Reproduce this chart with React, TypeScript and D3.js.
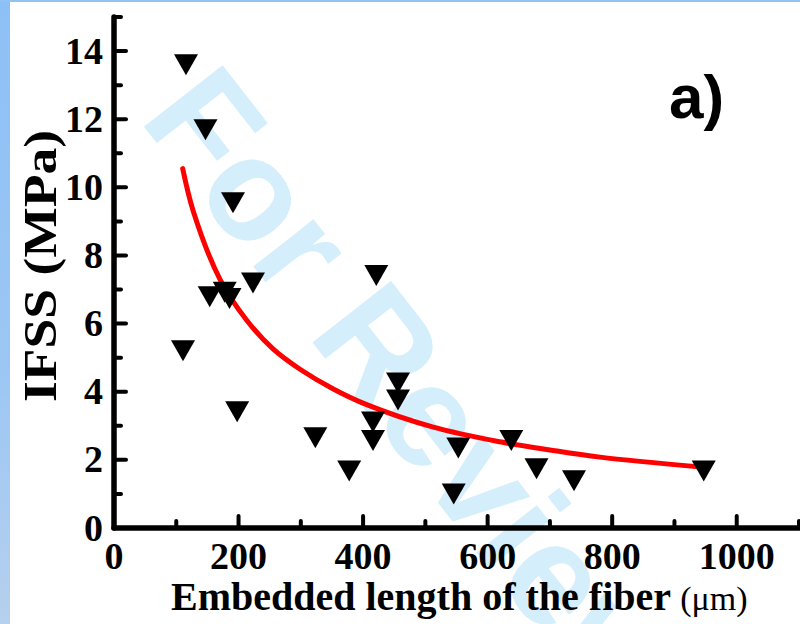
import React, { useEffect, useRef } from "react";
import * as d3 from "d3";

const pointX = [115.6, 146.9, 191.1, 110.8, 153.7, 177.8, 185.5, 223.2, 197.8, 323.3, 377.7, 421.2, 415.9, 415.9, 456.1, 456.1, 552.9, 545.5, 638.0, 678.5, 738.7, 947.0];
const pointY = [13.6, 11.69, 9.55, 5.2, 6.79, 6.92, 6.74, 7.19, 3.41, 2.65, 1.67, 7.41, 3.11, 2.57, 4.26, 3.76, 2.35, 1.0, 2.57, 1.74, 1.39, 1.67];

const fitX = [110.3, 127.3, 170.2, 213.1, 255.8, 298.7, 352.2, 405.8, 512.8, 619.9, 700.2, 780.5, 946.4];
const fitY = [10.55, 9.3, 7.3, 6.1, 5.25, 4.66, 4.08, 3.62, 2.96, 2.53, 2.29, 2.08, 1.78];

const xTicks = [0, 200, 400, 600, 800, 1000];
const xMinor = [100, 300, 500, 700, 900, 1100];
const yTicks = [0, 2, 4, 6, 8, 10, 12, 14];
const yMinor = [1, 3, 5, 7, 9, 11, 13, 15];

const xTitle = "Embedded length of the fiber";
const xUnit = "(μm)";
const yTitle = "IFSS (MPa)";
const panelLabel = "a)";
const watermark = "For Review";

export default function App() {
  const ref = useRef<SVGSVGElement>(null);

  useEffect(() => {
    const svg = d3.select(ref.current);
    svg.selectAll("*").remove();
    const W = 800, H = 624;

    const x = d3.scaleLinear().domain([0, 1100]).range([114, 799]);
    const y = d3.scaleLinear().domain([0, 15]).range([528, 17]);

    const defs = svg.append("defs");
    const grad = defs.append("linearGradient").attr("id", "edge").attr("x1", 0).attr("y1", 0).attr("x2", 0).attr("y2", 1);
    grad.append("stop").attr("offset", "0%").attr("stop-color", "#8dc0f6");
    grad.append("stop").attr("offset", "60%").attr("stop-color", "#9cc7f4");
    grad.append("stop").attr("offset", "100%").attr("stop-color", "#b6d0ee");

    svg.append("rect").attr("width", W).attr("height", H).attr("fill", "#ffffff");
    svg.append("rect").attr("x", 0).attr("y", 0).attr("width", 10).attr("height", H).attr("fill", "url(#edge)");
    svg.append("rect").attr("x", 0).attr("y", 0).attr("width", W).attr("height", 2).attr("fill", "#93c3f6");

    svg.append("text")
      .attr("transform", "translate(138,119) rotate(52)")
      .attr("font-family", "Liberation Sans, Arial, sans-serif")
      .attr("font-weight", "bold")
      .attr("font-size", 145)
      .attr("fill", "#d5eefb")
      .text(watermark);

    const serif = "Liberation Serif, Times New Roman, serif";

    const g = svg.append("g");
    g.append("line").attr("x1", x(0)).attr("x2", x(0)).attr("y1", y(15)).attr("y2", y(0))
      .attr("stroke", "#000").attr("stroke-width", 5.5).attr("stroke-linecap", "round");
    g.append("line").attr("x1", x(0)).attr("x2", 800).attr("y1", y(0)).attr("y2", y(0))
      .attr("stroke", "#000").attr("stroke-width", 5.5).attr("stroke-linecap", "round");

    yTicks.forEach((t) => {
      g.append("line").attr("x1", x(0)).attr("x2", x(0) + 12).attr("y1", y(t)).attr("y2", y(t))
        .attr("stroke", "#000").attr("stroke-width", 4).attr("stroke-linecap", "round");
      g.append("text").attr("x", 103).attr("y", y(t) + 12.5).attr("text-anchor", "end")
        .attr("font-family", serif).attr("font-weight", "bold").attr("font-size", 38).text(String(t));
    });
    yMinor.forEach((t) => {
      g.append("line").attr("x1", x(0)).attr("x2", x(0) + 7).attr("y1", y(t)).attr("y2", y(t))
        .attr("stroke", "#000").attr("stroke-width", 4).attr("stroke-linecap", "round");
    });
    xTicks.forEach((t) => {
      g.append("line").attr("x1", x(t)).attr("x2", x(t)).attr("y1", y(0)).attr("y2", y(0) - 12)
        .attr("stroke", "#000").attr("stroke-width", 4).attr("stroke-linecap", "round");
      g.append("text").attr("x", x(t)).attr("y", 569).attr("text-anchor", "middle")
        .attr("font-family", serif).attr("font-weight", "bold").attr("font-size", 38).text(String(t));
    });
    xMinor.forEach((t) => {
      g.append("line").attr("x1", x(t)).attr("x2", x(t)).attr("y1", y(0)).attr("y2", y(0) - 7)
        .attr("stroke", "#000").attr("stroke-width", 4).attr("stroke-linecap", "round");
    });

    const xt = svg.append("text").attr("x", 171).attr("y", 610)
      .attr("font-family", serif).attr("font-size", 40);
    xt.append("tspan").attr("font-weight", "bold").text(xTitle + " ");
    xt.append("tspan").attr("font-size", 34).text(xUnit);

    svg.append("text").attr("transform", "translate(56,266) rotate(-90)")
      .attr("text-anchor", "middle").attr("font-family", serif).attr("font-weight", "bold")
      .attr("font-size", 47).attr("textLength", 272).attr("lengthAdjust", "spacingAndGlyphs")
      .text(yTitle);

    const line = d3.line<number>().x((d, i) => x(fitX[i])).y((d, i) => y(fitY[i])).curve(d3.curveCatmullRom.alpha(0.5));
    svg.append("path").attr("d", line(fitY) || "").attr("fill", "none").attr("stroke", "#ff0000")
      .attr("stroke-width", 5).attr("stroke-linecap", "round");

    const tri = "M-12,-10.5 L12,-10.5 L0,10.5 Z";
    pointX.forEach((px, i) => {
      svg.append("path").attr("d", tri).attr("transform", `translate(${x(px)},${y(pointY[i])})`)
        .attr("fill", "#000");
    });

    svg.append("text").attr("x", 669).attr("y", 118).attr("font-family", "Liberation Sans, Arial, sans-serif")
      .attr("font-weight", "bold").attr("font-size", 62).text(panelLabel);
  }, []);

  return (
    <svg ref={ref} width={800} height={624} style={{ position: "absolute", left: 0, top: 0 }} />
  );
}
